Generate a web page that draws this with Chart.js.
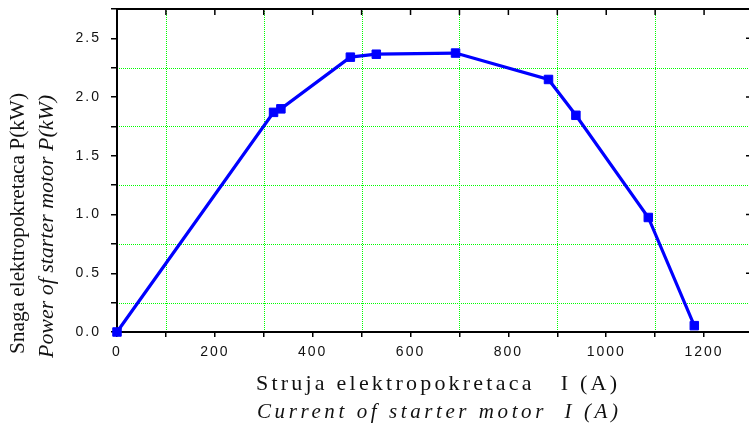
<!DOCTYPE html>
<html><head><meta charset="utf-8">
<script src="https://cdn.jsdelivr.net/npm/chart.js@4"></script>
<style>html,body{margin:0;padding:0;overflow:hidden;background:#fff}</style>
</head><body>
<canvas id="c" width="760" height="423"></canvas>
<script>
const currentA = [0, 320, 335, 477, 530, 692, 882, 938, 1086, 1180];
const powerKW = [0, 1.87, 1.90, 2.34, 2.365, 2.375, 2.15, 1.845, 0.975, 0.054];
const xTickLabels = ['0','200','400','600','800','1000','1200'];
const yTickLabels = ['0.0','0.5','1.0','1.5','2.0','2.5'];
const yTitleLines = ['Snaga elektropokretaca P(kW)', 'Power of starter motor P(kW)'];
const xTitleLines = ['Struja elektropokretaca   I (A)', 'Current of starter motor  I (A)'];

const isMinorX = v => Math.round(v / 100) % 2 === 1;
const isMinorY = v => Math.round(v / 0.25) % 2 === 1;

const frame = {
  id: 'frame',
  beforeDraw(chart) { chart.ctx.letterSpacing = '2px'; },
  beforeDatasetsDraw(chart) {
    const {ctx, chartArea: a, scales: {x, y}} = chart;
    ctx.save();
    ctx.letterSpacing = '0px';
    // green dotted grid at minor ticks
    ctx.fillStyle = '#00ff00';
    const L = Math.round(a.left), R = Math.round(Math.min(a.right, chart.width)), T = Math.round(a.top), B = Math.round(a.bottom);
    x.ticks.forEach(t => {
      if (!isMinorX(t.value)) return;
      const px = Math.round(x.getPixelForValue(t.value));
      if (px >= R) return;
      for (let yy = T; yy < B; yy += 2) ctx.fillRect(px, yy, 1, 1);
    });
    y.ticks.forEach(t => {
      if (!isMinorY(t.value)) return;
      const py = Math.round(y.getPixelForValue(t.value));
      if (py <= T) return;
      for (let xx = L; xx < R; xx += 2) ctx.fillRect(xx, py, 1, 1);
    });
    // frame
    ctx.strokeStyle = '#000';
    ctx.lineWidth = 2;
    ctx.strokeRect(a.left, a.top, a.right - a.left, a.bottom - a.top);
    ctx.lineWidth = 1.5;
    ctx.beginPath();
    x.ticks.forEach(t => {
      const px = x.getPixelForValue(t.value);
      ctx.moveTo(px, a.top); ctx.lineTo(px, a.top + 6);
    });
    y.ticks.forEach(t => {
      if (isMinorY(t.value)) return;
      const py = y.getPixelForValue(t.value);
      ctx.moveTo(a.right, py); ctx.lineTo(a.right - 7, py);
    });
    ctx.stroke();
    ctx.restore();
  },
  afterDraw(chart) {
    const ctx = chart.ctx;
    ctx.save();
    ctx.letterSpacing = '0px';
    ctx.fillStyle = '#111';
    ctx.textAlign = 'center';
    ctx.textBaseline = 'alphabetic';
    const yT = [
      {t: yTitleLines[0], font: '21px "Liberation Serif"', bx: 24, cy: 223.5, len: 261},
      {t: yTitleLines[1], font: 'italic 20px "Liberation Serif"', bx: 53, cy: 226.5, len: 263}
    ];
    yT.forEach(o => {
      ctx.save();
      ctx.font = o.font;
      const w = ctx.measureText(o.t).width;
      ctx.translate(o.bx, o.cy);
      ctx.rotate(-Math.PI / 2);
      ctx.scale(o.len / w, 1);
      ctx.fillText(o.t, 0, 0);
      ctx.restore();
    });
    const xT = [
      {t: xTitleLines[0], font: '22px "Liberation Serif"', cx: 436.5, by: 390, len: 361},
      {t: xTitleLines[1], font: 'italic 21px "Liberation Serif"', cx: 437.5, by: 418, len: 361}
    ];
    xT.forEach(o => {
      ctx.save();
      ctx.font = o.font;
      ctx.letterSpacing = '0px';
      const w = ctx.measureText(o.t).width;
      const ls = (o.len - w) / (o.t.length - 1);
      ctx.letterSpacing = ls + 'px';
      ctx.fillText(o.t, o.cx + ls / 2, o.by);
      ctx.restore();
    });
    ctx.restore();
  }
};

new Chart(document.getElementById('c'), {
  type: 'scatter',
  data: {
    datasets: [{
      data: currentA.map((v, i) => ({x: v, y: powerKW[i]})),
      showLine: true,
      borderColor: '#0000ff',
      backgroundColor: '#0000ff',
      pointBorderColor: '#0000ff',
      borderWidth: 3.2,
      pointStyle: 'rect',
      pointRadius: 6,
      pointBorderWidth: 1,
      clip: false
    }]
  },
  options: {
    responsive: false,
    animation: false,
    layout: {padding: {top: 9, right: 6, left: 0, bottom: 0}},
    plugins: {legend: {display: false}, tooltip: {enabled: false}},
    scales: {
      x: {
        type: 'linear', min: 0, max: 1300,
        afterFit(s) { s.height = 91; s.paddingLeft = 0; s.paddingRight = 0; },
        ticks: {
          stepSize: 100, autoSkip: false, maxRotation: 0, minRotation: 0, padding: 7,
          color: '#111', font: {family: 'Liberation Sans', size: 14},
          callback: v => xTickLabels.includes(String(v)) ? String(v) : ''
        },
        grid: {
          drawOnChartArea: false,
          lineWidth: 1.5, color: '#000', tickColor: '#000', tickLength: 5, tickWidth: 1.5
        },
        border: {display: false}
      },
      y: {
        min: 0, max: 2.75,
        afterFit(s) { s.width = 117; s.paddingTop = 0; s.paddingBottom = 0; },
        ticks: {
          stepSize: 0.25, autoSkip: false, padding: 10,
          color: '#111', font: {family: 'Liberation Sans', size: 14},
          callback: v => {
            const s = v.toFixed(1);
            return (!isMinorY(v) && yTickLabels.includes(s)) ? s : '';
          }
        },
        grid: {
          drawOnChartArea: false,
          lineWidth: 1.5, color: '#000', tickColor: '#000', tickLength: 6, tickWidth: 1.5
        },
        border: {display: false}
      }
    }
  },
  plugins: [frame]
});
</script>
</body></html>
